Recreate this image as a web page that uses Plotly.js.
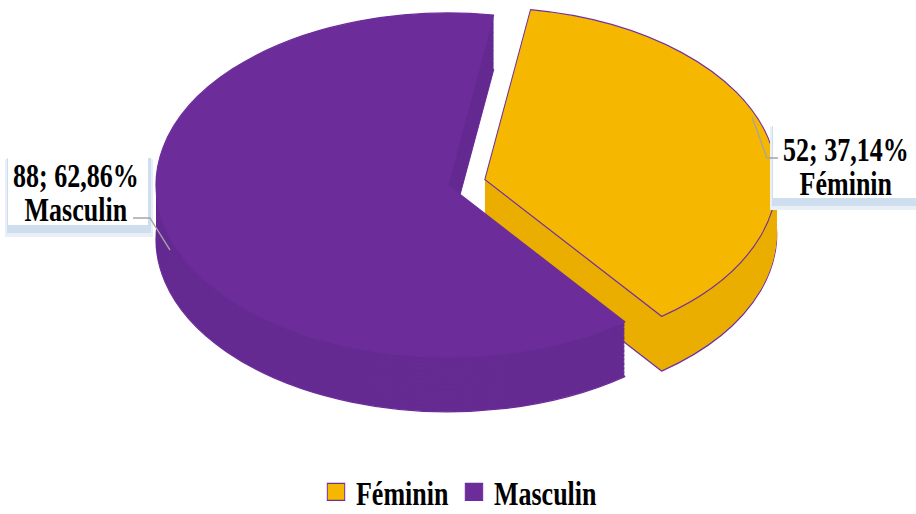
<!DOCTYPE html>
<html><head><meta charset="utf-8">
<script src="https://cdn.plot.ly/plotly-3.0.1.min.js"></script>
<style>
html,body{margin:0;padding:0;background:#fff;overflow:hidden;width:916px;height:514px;}
#chart{width:916px;height:395px;transform-origin:0 0;transform:scaleY(1.3013);}
</style></head><body><div id="chart"></div>
<script>
// ---- data ----
const labels = ['Féminin', 'Masculin'];
const values = [52, 88];
const topColors = ['#F5B700', '#6C2D9A'];
const sideColors = ['#EAAE00', '#652B92'];
const lineColors = ['#7030A0', '#6C2D9A'];

// ---- geometry (frame px, frame is 916x395 stretched vertically to 514) ----
const W = 916, H = 395, S = 514 / 395;
const R = 132.2, PULL = 0.13, CY0 = 160, DEPTH = 42, STEP = 1;
const TARGET_CX = 448, TARGET_CY = 185 / S, TARGET_A = 292;
const LINE_GAP_EM = 0.98;

const total = values.reduce((a, b) => a + b, 0);
const pct = values.map(v => (v / total * 100).toFixed(2).replace('.', ',') + '%');

function domainY(d) {
  const h = R * (1 + PULL);
  return [1 - (CY0 + d + h) / H, 1 - (CY0 + d - h) / H];
}
function pieTrace(d, colors, lw, show) {
  return {
    type: 'pie', labels: labels, values: values, sort: false,
    direction: 'clockwise', rotation: 9, pull: [PULL, 0],
    domain: {x: [0, 1], y: domainY(d)},
    marker: {colors: colors, line: {color: lineColors, width: lw}},
    textinfo: 'none', hoverinfo: 'skip', showlegend: show
  };
}
const data = [];
for (let d = DEPTH; d >= STEP; d -= STEP) {
  data.push(pieTrace(d, sideColors, d === DEPTH ? 1 : 0, false));
}
data.push(pieTrace(0, topColors, 1, true));

// helpers: screen px -> paper
const px = x => x / W;
const py = y => 1 - y / 514;

const boxes = [
  {x0: 8, x1: 148, y0: 155, y1: 225},
  {x0: 773, x1: 916, y0: 123, y1: 198}
];
const shapes = [];
boxes.forEach(b => {
  shapes.push({type: 'rect', xref: 'paper', yref: 'paper', x0: px(b.x0 - 3), x1: px(b.x1 + 5), y0: py(b.y0 + 4), y1: py(b.y1 + 12), fillcolor: '#e8eff7', line: {width: 0}});
  shapes.push({type: 'rect', xref: 'paper', yref: 'paper', x0: px(b.x0 - 1), x1: px(b.x1 + 3), y0: py(b.y0 + 3), y1: py(b.y1 + 8), fillcolor: '#cfdeee', line: {width: 0}});
  shapes.push({type: 'rect', xref: 'paper', yref: 'paper', x0: px(b.x0), x1: px(b.x1), y0: py(b.y0), y1: py(b.y1), fillcolor: '#ffffff', line: {width: 0}});
});
const leaders = [
  [[133, 218], [150, 218], [170, 250]],
  [[752, 117], [767, 158], [778, 158]]
];
leaders.forEach(pts => {
  const path = pts.map((p, i) => (i ? 'L' : 'M') + px(p[0]) + ',' + py(p[1])).join(' ');
  shapes.push({type: 'path', xref: 'paper', yref: 'paper', path: path, line: {color: '#a5a5a5', width: 1.3}});
});

// label anchor: [x center, first-line center y] in screen px
const labelPos = [[846, 150], [76, 176]];
const annotations = [];
labels.forEach((lab, i) => {
  const f = {family: 'Liberation Serif, Times New Roman, serif', size: 26, color: '#000'};
  annotations.push({xref: 'paper', yref: 'paper', x: px(labelPos[i][0]), y: py(labelPos[i][1] + 0.65 * 26 * S),
    text: '<b>' + values[i] + '; ' + pct[i] + '</b><br><b>' + lab + '</b>',
    showarrow: false, xanchor: 'center', yanchor: 'middle', align: 'center', font: f});
});

const layout = {
  width: W, height: H,
  margin: {l: 0, r: 0, t: 0, b: 0, autoexpand: false},
  paper_bgcolor: '#fff', plot_bgcolor: '#fff',
  showlegend: true,
  legend: {orientation: 'h', x: px(316), xanchor: 'left', y: py(492), yanchor: 'middle',
           font: {family: 'Liberation Serif, Times New Roman, serif', size: 26, color: '#000', weight: 'bold'},
           bgcolor: 'rgba(0,0,0,0)', traceorder: 'normal'},
  shapes: shapes, annotations: annotations, hovermode: false
};

const gd = document.getElementById('chart');
Plotly.newPlot(gd, data, layout, {staticPlot: true, displayModeBar: false}).then(() => {
  const cd = gd.calcdata[gd.calcdata.length - 1][0];
  const sx = TARGET_A / cd.r;
  const layer = gd.querySelector('.pielayer');
  layer.setAttribute('transform', `matrix(${sx},0,0,1,${TARGET_CX - sx * cd.cx},${TARGET_CY - cd.cy})`);
  layer.querySelectorAll('path').forEach(p => p.setAttribute('vector-effect', 'non-scaling-stroke'));
  gd.querySelectorAll('.legend .legendpoints path').forEach(p => {
    p.setAttribute('transform', (p.getAttribute('transform') || '') + ' scale(1.45,1.1)');
    p.setAttribute('vector-effect', 'non-scaling-stroke');
  });
  // tighten the two-line label spacing to match the reference
  gd.querySelectorAll('.annotation-text tspan.line').forEach(t => {
    const dy = parseFloat(t.getAttribute('dy') || '0');
    if (dy > 0) t.setAttribute('dy', (dy * LINE_GAP_EM / 1.3) + 'em');
  });
});
</script></body></html>
